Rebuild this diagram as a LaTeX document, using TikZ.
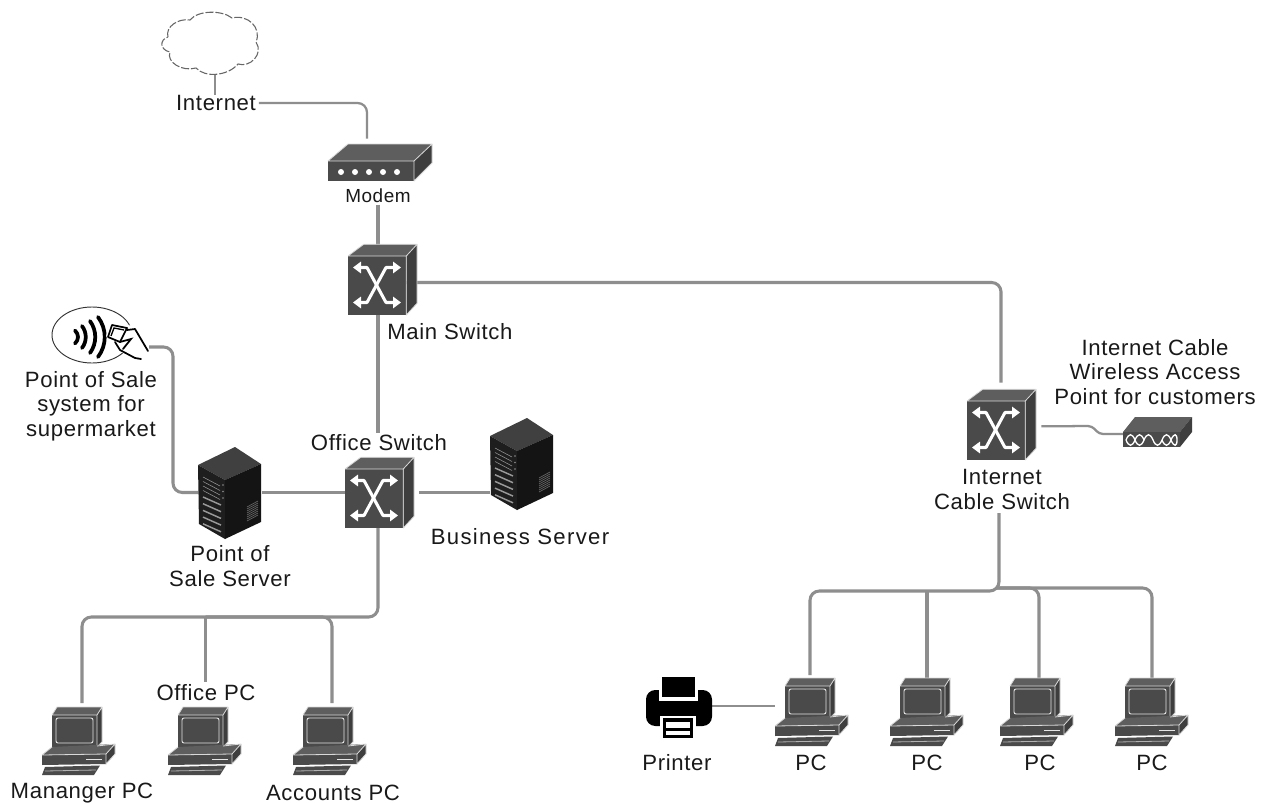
\documentclass[tikz,border=0pt]{standalone}
\usepackage{fontspec}
\setmainfont[LetterSpace=3]{Liberation Sans}
\usetikzlibrary{arrows.meta}
\definecolor{linkgray}{HTML}{8E8E8E}
\definecolor{front}{HTML}{4A4A4A}
\definecolor{topface}{HTML}{5E5E5E}
\definecolor{sideface}{HTML}{3E3E3E}
\definecolor{rack}{HTML}{1E1E1E}
\tikzset{
  dev/.style={inner sep=0pt,outer sep=0pt,minimum width=#1*0.75pt},
  dev/.default=70,
  lbl/.style={font=\fontsize{16.6}{18.4}\selectfont,align=center,inner sep=0pt,text=black!90},
  smalllbl/.style={font=\fontsize{14.2}{16}\selectfont,align=center,inner sep=0pt,text=black!90},
  link/.style={draw=linkgray,line width=2.3pt,rounded corners=7pt},
  thinlink/.style={link,line width=1.7pt},
  edge/.style={draw=white!85!black,line width=0.6pt,line join=round},
  warrow/.style={draw=white,line width=2.3pt,{Triangle[length=6pt,width=8.5pt]}-{Triangle[length=6pt,width=8.5pt]},line join=round},
}
\newcommand{\switchicon}[1]{\begin{scope}[shift={#1}]
  \fill[topface] (0,0) -- (15.7,-11.7) -- (69,-11.7) -- (58.3,0) -- cycle;
  \fill[sideface] (58.3,0) -- (69,-11.7) -- (69,47.3) -- (58.3,59) -- cycle;
  \fill[front] (0,0) rectangle (58.3,59);
  \draw[edge] (0,0) -- (15.7,-11.7) -- (69,-11.7) -- (69,47.3) -- (58.3,59) (0,0) -- (58.3,0) -- (58.3,59) (58.3,0) -- (69,-11.7);
  \draw[warrow] (5,11.5) -- (19,11.5) -- (38,46.5) -- (53,46.5);
  \draw[warrow] (53,11.5) -- (38,11.5) -- (19,46.5) -- (5,46.5);
\end{scope}}
\newcommand{\pcicon}[1]{\begin{scope}[shift={#1}]
  \fill[topface] (10,8) -- (15,0) -- (60,0) -- (55,8) -- cycle;
  \fill[sideface] (55,8) -- (60,0) -- (60,35) -- (55,40) -- cycle;
  \fill[front] (10,8) rectangle (55,40);
  \draw[edge] (10,8) -- (15,0) -- (60,0) -- (60,35) -- (55,40) -- (55,8) -- (60,0) (55,8) -- (10,8);
  \draw[draw=white!90!black,line width=0.7pt,rounded corners=1.5pt] (14,11) rectangle (51,36);
  \fill[topface] (0,48) -- (10,40) -- (73,37) -- (64,47) -- cycle;
  \fill[sideface] (64,47) -- (73,37) -- (73,47) -- (64,57) -- cycle;
  \fill[front] (0,48) -- (64,47) -- (64,57) -- (0,58) -- cycle;
  \draw[edge] (0,48) -- (10,40) (55,39) -- (73,37) -- (73,47) -- (64,57) -- (64,47) -- (73,37) (64,47) -- (0,48);
  \draw[draw=white!90!black,line width=0.7pt] (44,52) -- (60,52);
  \fill[front] (3,60) -- (58,58.5) -- (52,68) -- (0,68) -- cycle;
  \draw[draw=white!70!black,line width=0.6pt] (3,64) -- (54,63);
\end{scope}}
\newcommand{\servericon}[1]{\begin{scope}[shift={#1}]
  \fill[black!75] (0,18) -- (37,0) -- (63,17) -- (27,33) -- cycle;
  \fill[rack] (0,18) -- (27,33) -- (27,92) -- (1,77) -- cycle;
  \fill[black!92] (27,33) -- (63,17) -- (63,75) -- (27,92) -- cycle;
  \foreach \k in {0,1,2,3,4} {
    \draw[black!40,line width=1.1pt] (5,{50+\k*6.7}) -- (23,{58+\k*6.7});
  }
  \foreach \k in {0,1,2,3,4,5,6,7} {
    \draw[black!60,line width=0.5pt] (49,{60-0.5*\k+\k*2.5}) -- (60,{54-0.5*\k+\k*2.5});
  }
  \foreach \k in {0,1,2} { \fill[black!45] (25,{38+\k*6.5}) circle (0.8); }
  \foreach \k in {0,1,2,3} { \draw[black!40,line width=0.4pt] (5,{30+\k*4.5}) -- (22,{39+\k*4.5}); }
\end{scope}}
\begin{document}
\begin{tikzpicture}[x=0.75pt,y=-0.75pt]
\useasboundingbox (0,0) rectangle (1268,803);
\fill[white] (0,0) rectangle (1268,803);

% device nodes
\node[dev=96,minimum height=46pt] (cloud) at (215,44) {};
\node[lbl] (internet) at (216,103) {Internet};
\node[dev=86,minimum height=27.75pt] (modem) at (371,162.5) {};
\node[smalllbl] (modemlbl) at (378,196) {Modem};
\node[dev=58,minimum height=44.25pt] (main) at (377,285.5) {};
\node[lbl,anchor=west] (mainlbl) at (387,332) {Main Switch};
\node[dev=96,minimum height=42pt] (reader) at (100,335) {};
\coordinate (readerout) at (149,347);
\coordinate (readerbend) at (173,347);
\node[lbl] (readerlbl) at (91,406) {Point of Sale\\system for\\supermarket};
\node[dev=64,minimum height=68pt] (possrv) at (230,492.5) {};
\node[lbl] (possrvlbl) at (230,566) {Point of\\Sale Server};
\node[dev=58,minimum height=44.25pt] (office) at (374,498) {};
\node[lbl] (officelbl) at (379,443) {Office Switch};
\node[dev=64,minimum height=68pt] (bizsrv) at (522,464) {};
\node[lbl] (bizlbl) at (520,537) {\addfontfeature{LetterSpace=6}Business Server};
\node[dev=70,minimum height=52.5pt] (cable) at (1001,425) {};
\node[lbl] (cablelbl) at (1002,489.5) {Internet\\Cable Switch};
\coordinate (cabledrop) at (999,513);
\node[lbl] (aplbl) at (1155,372) {Internet Cable\\Wireless Access\\Point for customers};
\node[dev=57,minimum height=19.5pt] (ap) at (1151.5,434) {};
\coordinate (apbend1) at (1092,426);
\coordinate (apbend2) at (1099,434);
\node[dev=66,minimum height=46pt] (printer) at (679,706) {};
\node[lbl] (printerlbl) at (677,763) {Printer};
\node[dev=70,minimum height=55.5pt] (pcA) at (810,712) {};
\node[dev=70,minimum height=55.5pt] (pcB) at (927,715) {};
\node[dev=70,minimum height=55.5pt] (pcC) at (1039,715) {};
\node[dev=70,minimum height=55.5pt] (pcD) at (1152,715) {};
\node[lbl] (pcAl) at (811,763) {PC};
\node[lbl] (pcBl) at (927,763) {PC};
\node[lbl] (pcCl) at (1040,763) {PC};
\node[lbl] (pcDl) at (1152,763) {PC};
\node[dev=70,minimum height=55.5pt] (mgr) at (82,740) {};
\node[dev=70,minimum height=55.5pt] (acct) at (332,740) {};
\node[lbl] (ofpclbl) at (206,693) {Office PC};
\node[lbl] (mgrlbl) at (82,793) {Mananger PC};
\node[lbl] (acctlbl) at (333,793) {Accounts PC};
\coordinate (lbus) at (205.5,617);
\coordinate (rbusL) at (997,591);
\coordinate (rbusR) at (997,588);

% connectors
\draw[thinlink] (cloud.south) -- (cloud.south |- internet.north);
\draw[thinlink] ([xshift=2pt]internet.east) -| ([xshift=-3pt,yshift=4pt]modem.north);
\draw[link] ([yshift=-1pt]modemlbl.south) -- (main.north -| modemlbl.south);
\draw[link] ([yshift=2.25pt]main.east) -| ([yshift=5.5pt]cable.north);
\draw[link] ([xshift=0.75pt,yshift=4pt]main.south) -- ([xshift=0.75pt,yshift=1pt]main.south |- officelbl.north);
\draw[link] ([xshift=0.75pt]main.south |- office.south) |- (lbus) -| (mgr.north);
\draw[link] (lbus) -| (acct.north);
\draw[link] (lbus) -- ([yshift=2pt]ofpclbl.north -| lbus);
\draw[link] (readerout) -- (readerbend) |- (possrv.west);
\draw[link] (possrv.east) -- (possrv.east -| office.west);
\draw[link] ([xshift=12pt]office.east |- possrv.east) -- (bizsrv.west |- possrv.east);
\draw[thinlink,rounded corners=3pt] ([xshift=4pt,yshift=-1pt]cable.east) -- (apbend1) -- (apbend2) -- (ap.west);
\draw[link] (cabledrop) |- (pcA.north |- rbusL) -- (pcA.north);
\draw[link] (rbusR) -| (pcC.north);
\draw[link] (rbusR) -| (pcD.north);
\draw[link,rounded corners=0pt] (pcB.north |- rbusL) -- (pcB.north);
\draw[thinlink] (printer.east) -- (printer.east -| pcA.west);

% cloud
\draw[black!60,line width=0.8pt,dash pattern=on 6pt off 1.5pt,fill=white]
  (168,37) .. controls (165,27) and (178,18) .. (190,20)
  .. controls (198,10) and (222,10) .. (232,18)
  .. controls (248,14) and (262,28) .. (256,42)
  .. controls (264,54) and (250,68) .. (238,64)
  .. controls (228,76) and (205,78) .. (196,68)
  .. controls (182,72) and (166,62) .. (170,52)
  .. controls (160,50) and (159,40) .. (168,37) -- cycle;

% modem
\fill[topface] (328,161) -- (348,144) -- (432,144) -- (414,161) -- cycle;
\fill[sideface] (414,161) -- (432,144) -- (432,163) -- (414,181) -- cycle;
\fill[front] (328,161) rectangle (414,181);
\draw[edge] (328,161) -- (348,144) -- (432,144) -- (432,163) -- (414,181) -- (414,161) -- (432,144) (414,161) -- (328,161);
\foreach \px in {341,355,369,383,397} { \fill[white] (\px,172) circle (3); }

% switches
\switchicon{(348,256)}
\switchicon{(345,469)}
\switchicon{(967,401)}

% servers
\servericon{(198,447)}
\servericon{(490,418)}

% access point
\fill[topface] (1123,432) -- (1135,417) -- (1192,417) -- (1180,432) -- cycle;
\fill[sideface] (1180,432) -- (1192,417) -- (1192,432) -- (1180,447) -- cycle;
\fill[front] (1123,432) rectangle (1180,447);
\draw[white,line width=1pt] (1126,440) .. controls (1129,433) and (1132,433) .. (1135,440) .. controls (1138,447) and (1141,447) .. (1144,440) .. controls (1147,433) and (1150,433) .. (1153,440) .. controls (1156,447) and (1159,447) .. (1162,440) .. controls (1165,433) and (1168,433) .. (1171,440) .. controls (1174,447) and (1177,447) .. (1177,440);
\draw[white,line width=1pt] (1126,440) .. controls (1129,447) and (1132,447) .. (1135,440) .. controls (1138,433) and (1141,433) .. (1144,440);
\draw[white,line width=1pt] (1162,440) .. controls (1165,447) and (1168,447) .. (1171,440) .. controls (1174,433) and (1177,433) .. (1177,440);

% POS reader
\draw[black!80,line width=0.7pt] (92,335) ellipse [x radius=40,y radius=28];
\foreach \wx/\wh/\wb in {75/6.5/4,82/11/5,90/16/7,98/20/9} {
  \draw[black,line width=2.8pt,line cap=round] (\wx,337-\wh) .. controls (\wx+\wb,337-\wh*0.4) and (\wx+\wb,337+\wh*0.4) .. (\wx,337+\wh);
}
\fill[white] (106,336) -- (112,323) -- (135,326) -- (149,350) -- (137,361) -- (118,350) -- cycle;
\draw[black,line width=1.3pt,line join=round] (108,337) -- (112,325) -- (127,328) -- (120,342) -- cycle;
\draw[black,line width=1pt] (111,336) -- (114,328) -- (124,330);
\draw[black,line width=1.3pt,line join=round,line cap=round] (127,330) -- (135,329) -- (148,351);
\draw[black,line width=1.3pt,line cap=round] (115,342) -- (120,350) -- (135,358) -- (141,359);
\draw[black,line width=1.3pt,line cap=round] (120,342) -- (131,339) -- (123,349);

% printer
\fill[black,rounded corners=7pt] (646,690) rectangle (712,726);
\fill[white] (659,687) rectangle (698,701);
\fill[black] (662,677) rectangle (695,697);
\fill[white] (660,716) rectangle (696,727);
\fill[black] (663,718) rectangle (693,738);
\fill[white] (666,722) rectangle (690,728);
\fill[white] (666,731) rectangle (690,735);

% PCs
\pcicon{(775,678)}
\pcicon{(890,678)}
\pcicon{(1000,678)}
\pcicon{(1115,678)}
\pcicon{(42,707)}
\pcicon{(168,707)}
\pcicon{(293,707)}
\end{tikzpicture}
\end{document}
